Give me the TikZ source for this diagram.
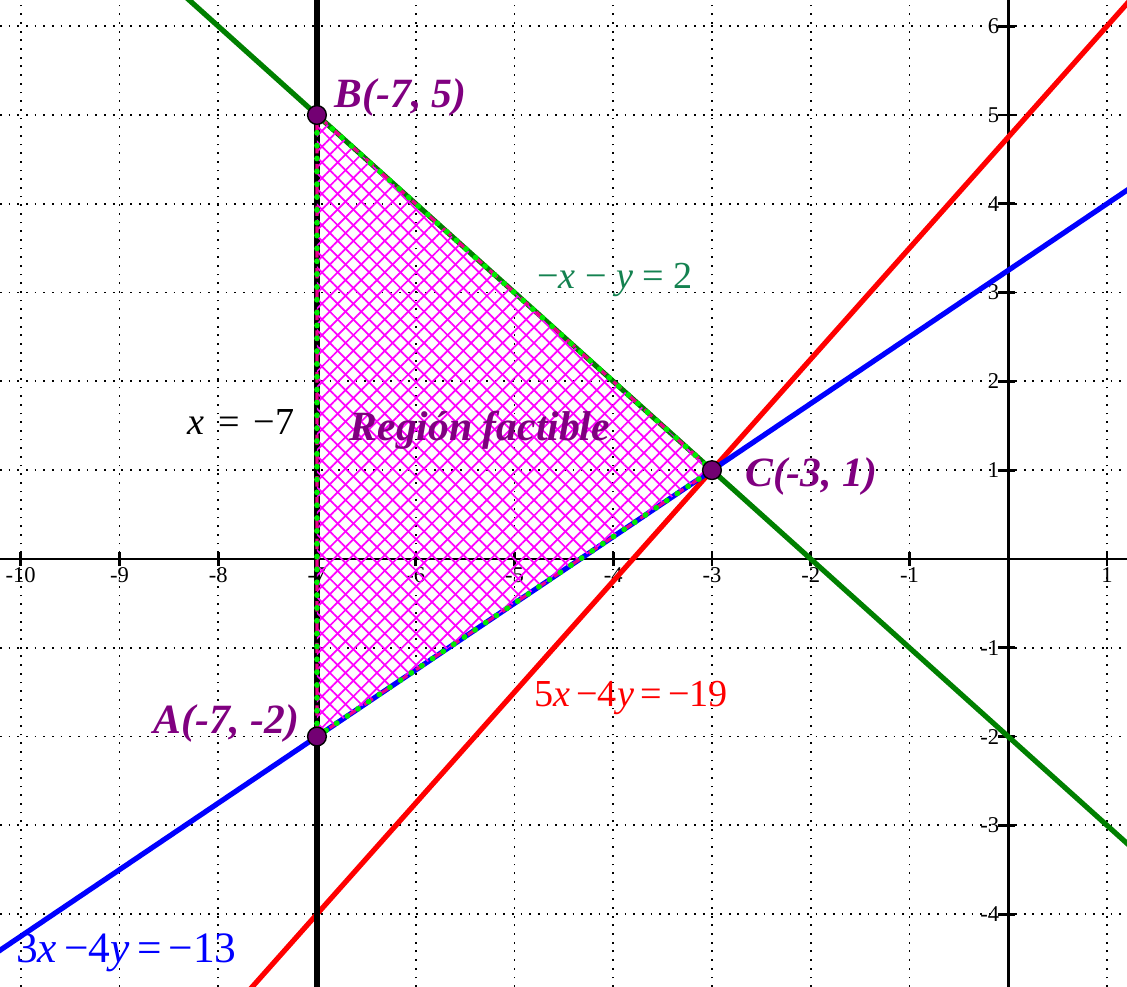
\documentclass[tikz,border=0pt]{standalone}
\usepackage{fontspec}
\setmainfont{Liberation Serif}
\usetikzlibrary{positioning,patterns.meta}
\definecolor{ptpurple}{RGB}{128,0,128}
\definecolor{lblgreen}{RGB}{20,130,80}
\definecolor{lngreen}{RGB}{0,128,0}
\definecolor{limegreen}{RGB}{0,235,0}

\begin{document}
\begin{tikzpicture}[x=1cm,y=0.8992cm]
  \tikzstyle{gridline}=[black,dotted,line width=0.5pt]
  \tikzstyle{axis}=[black,line width=0.8pt]
  \tikzstyle{ticklbl}=[font=\fontsize{6.5}{7}\selectfont,inner sep=1pt]
  \tikzstyle{eqline}=[line width=1.5pt]
  \tikzstyle{hatch}=[pattern color=magenta]
  \tikzstyle{pt}=[circle,draw=black,fill=ptpurple!90!black,line width=0.4pt,minimum size=5.4pt,inner sep=0pt]
  \tikzstyle{ptlbl}=[text=ptpurple,inner sep=1pt,font=\fontsize{12}{14}\selectfont\bfseries\itshape]
  \tikzstyle{eqlbl}=[inner sep=1pt,font=\fontsize{11}{13}\selectfont]

  \useasboundingbox (-10.21,-4.82) rectangle (1.203,6.295);
  \clip (-10.21,-4.82) rectangle (1.203,6.295);

  % grid
  \foreach \i in {-10,...,1}
    \draw[gridline] (\i,-4.82) -- (\i,6.295);
  \foreach \j in {-4,...,6}
    \draw[gridline] (-10.21,\j) -- (1.203,\j);

  % axes
  \coordinate (xl) at (-10.21,0);
  \coordinate (xr) at (1.203,0);
  \coordinate (yb) at (0,-4.82);
  \coordinate (yt) at (0,6.295);
  \draw[axis] (xl) -- (xr);
  \draw[axis] (yb) -- (yt);
  \foreach \i in {-10,...,-1,1} {
    \draw[axis] (\i,-0.08) -- (\i,0.08);
    \node[ticklbl,below] (tx\i) at (\i,-0.05) {\i};
  }
  \foreach \j in {-4,...,-1,1,2,...,6} {
    \draw[axis] (-0.1,\j) -- (0.07,\j);
    \node[ticklbl,left] (ty\j) at (-0.05,\j) {\j};
  }

  % vertices
  \coordinate (A) at (-7,-2);
  \coordinate (B) at (-7,5);
  \coordinate (C) at (-3,1);

  % constraint lines
  \coordinate (g1) at (-8.5,6.5);
  \coordinate (g2) at (1.5,-3.5);
  \coordinate (r1) at (-8,-5.25);
  \coordinate (r2) at (1.5,6.625);
  \coordinate (b1) at (-10.5,-4.625);
  \coordinate (b2) at (1.5,4.375);
  \coordinate (k1) at (-7,-4.82);
  \coordinate (k2) at (-7,6.295);
  \draw[eqline,lngreen] (g1) -- (g2);
  \draw[eqline,red] (r1) -- (r2);
  \draw[eqline,blue] (b1) -- (b2);
  \draw[eqline,black] (k1) -- (k2);

  % feasible region
  \fill[hatch,pattern={Lines[angle=45,distance=3.2pt,line width=0.5pt]}] (A) -- (B) -- (C) -- cycle;
  \fill[hatch,pattern={Lines[angle=-45,distance=3.2pt,line width=0.5pt]}] (A) -- (B) -- (C) -- cycle;
  \draw[magenta,line width=0.9pt,dashed] (A) -- (B) -- (C) -- cycle;
  \draw[limegreen,line width=1.6pt,line cap=round,dash pattern=on 0.1pt off 3.6pt] (A) -- (B) -- (C) -- cycle;

  \node[pt] (pA) at (A) {};
  \node[pt] (pB) at (B) {};
  \node[pt] (pC) at (C) {};

  % labels
  \node[ptlbl,right=1pt of pB,yshift=5pt] (lB) {B(-7, 5)};
  \node[ptlbl,right=5.5pt of pC,yshift=-1.8pt] (lC) {C(-3, 1)};
  \node[ptlbl,left=1pt of pA,yshift=3.8pt] (lA) {A(-7, -2)};
  \node[ptlbl] (region) at (-5.35,1.45) {Región factible};
  \node[eqlbl] (eqk) at (-7.77,1.54) {\textit{x}\hspace{4pt}=\hspace{4pt}−7};
  \node[eqlbl,text=lblgreen] (eqg) at (-3.98,3.14) {−\textit{x} − \textit{y} = 2};
  \node[eqlbl,text=red] (eqr) at (-3.82,-1.57) {5\textit{x}\,−4\textit{y}\,=\,−19};
  \node[eqlbl,text=blue,font=\fontsize{12.5}{15}\selectfont] (eqb) at (-8.93,-4.44) {3\textit{x}\,−4\textit{y}\,=\,−13};
\end{tikzpicture}
\end{document}
